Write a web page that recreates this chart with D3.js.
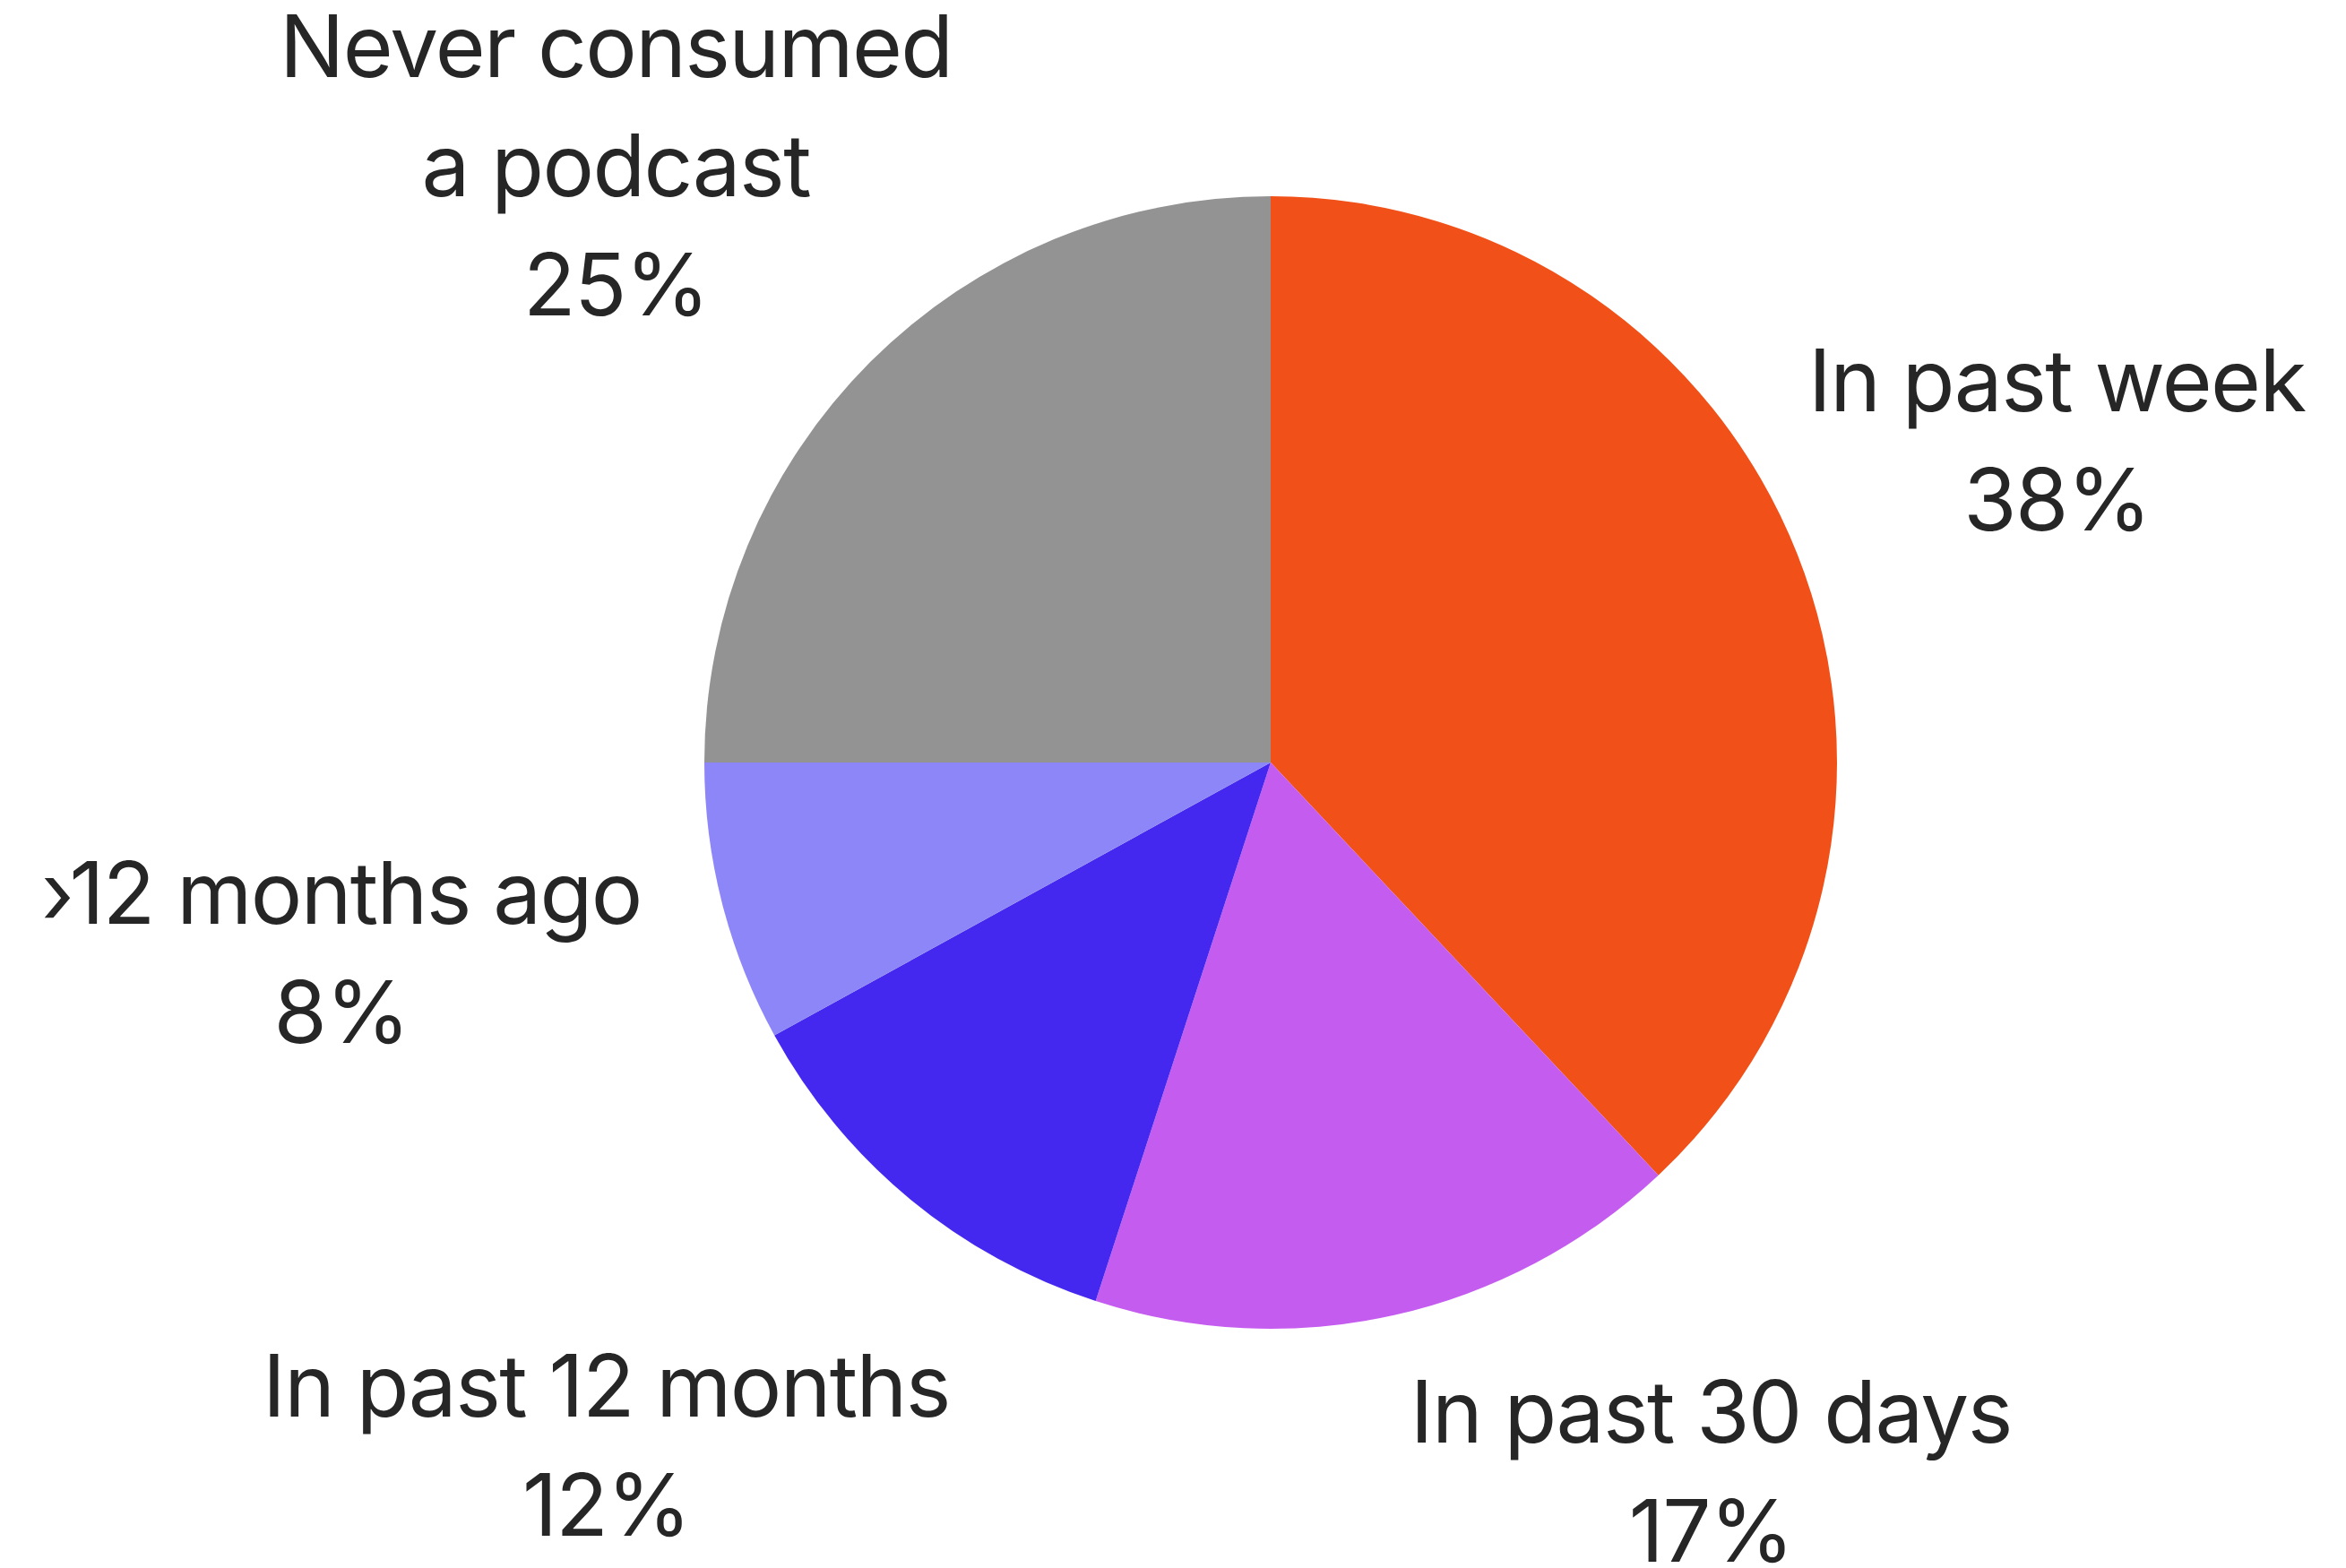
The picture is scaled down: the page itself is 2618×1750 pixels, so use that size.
<!DOCTYPE html>
<html lang="en">
<head>
<meta charset="utf-8">
<title>Podcast consumption</title>
<script src="https://d3js.org/d3.v7.min.js"></script>
<style>
  body { margin: 0; background: #fff; }
  .label { font-family: Inter, "Noto Sans", sans-serif; font-size: 96px; fill: #262626; letter-spacing: -1.6px; }
</style>
</head>
<body>
<div id="vis"></div>
<script>
// data, clockwise from 12 o'clock
const categories = ["In past week", "In past 30 days", "In past 12 months", ">12 months ago", "Never consumed a podcast"];
const labelLines = [["In past week"], ["In past 30 days"], ["In past 12 months"], ["›12 months ago"], ["Never consumed", "a podcast"]];
const shares = [38, 17, 12, 8, 25];
const colors = ["#f15118", "#c55cf0", "#4428f0", "#8d86f8", "#939393"];

const width = 2618, height = 1750;
const cx = 1418, cy = 851, radius = 632;
const labelRadius = 950;
const lineHeight = 133;
// small per-label nudges away from the radial spot
const labelNudge = [[-6, -11], [284, -137], [-136, 30], [-117, -25], [-59, 5]];

const dataset = categories.map((c, i) => ({ cat: c, lines: labelLines[i], value: shares[i], color: colors[i], nudge: labelNudge[i] }));

const svg = d3.select("#vis").append("svg")
  .attr("width", width)
  .attr("height", height);

const g = svg.append("g").attr("transform", "translate(" + cx + "," + cy + ")");

const pie = d3.pie().sort(null).value(d => d.value);
const arc = d3.arc().innerRadius(0).outerRadius(radius);
const labelArc = d3.arc().innerRadius(labelRadius).outerRadius(labelRadius);

const arcs = pie(dataset);

g.selectAll("path")
  .data(arcs)
  .enter()
  .append("path")
  .attr("d", arc)
  .attr("fill", d => d.data.color);

const labels = g.selectAll(".label")
  .data(arcs)
  .enter()
  .append("text")
  .attr("class", "label")
  .attr("text-anchor", "middle")
  .attr("transform", d => {
    const c = labelArc.centroid(d);
    return "translate(" + (c[0] + d.data.nudge[0]) + "," + (c[1] + d.data.nudge[1]) + ")";
  });

labels.each(function (d) {
  const t = d3.select(this);
  const lines = d.data.lines.concat([d.data.value + "%"]);
  // block centred vertically on the anchor, cap height ~ 0.73em
  const first = -((lines.length - 1) * lineHeight) / 2 + 35;
  lines.forEach((s, i) => {
    t.append("tspan")
      .attr("x", 0)
      .attr("y", first + i * lineHeight)
      .text(s);
  });
});
</script>
</body>
</html>
